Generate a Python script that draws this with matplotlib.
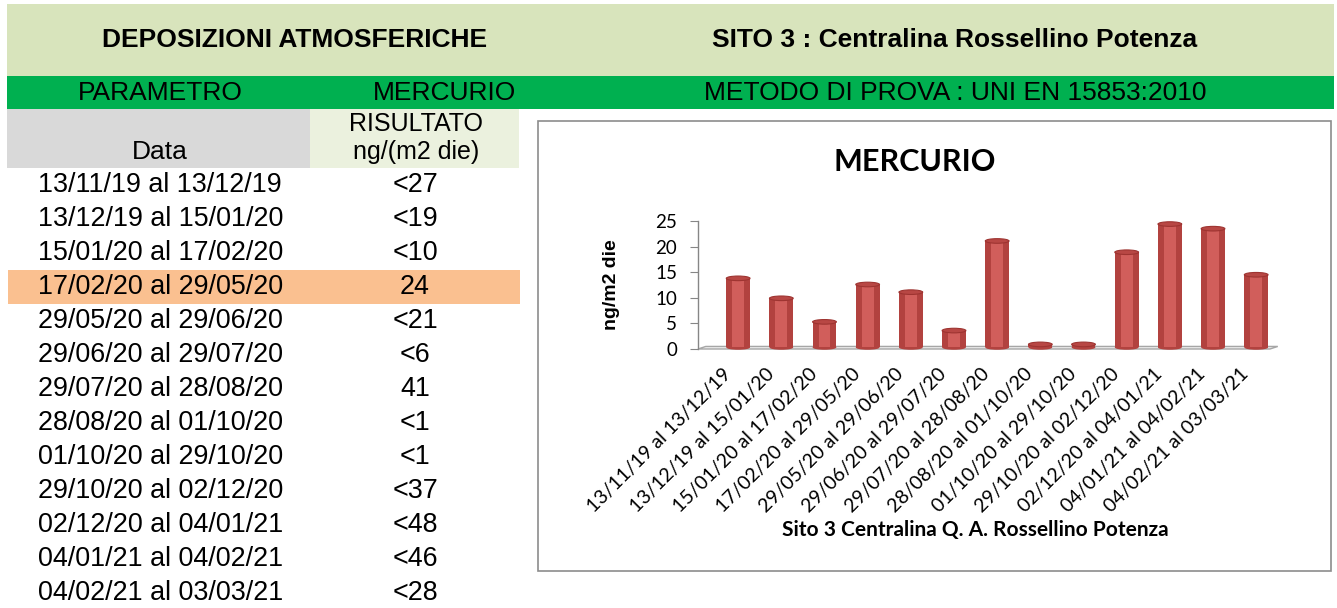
import matplotlib
matplotlib.use("Agg")
import matplotlib.pyplot as plt
import matplotlib.transforms as mtransforms
from matplotlib.patches import Rectangle, Ellipse
import numpy as np

periods = ["13/11/19 al 13/12/19", "13/12/19 al 15/01/20", "15/01/20 al 17/02/20",
           "17/02/20 al 29/05/20", "29/05/20 al 29/06/20", "29/06/20 al 29/07/20",
           "29/07/20 al 28/08/20", "28/08/20 al 01/10/20", "01/10/20 al 29/10/20",
           "29/10/20 al 02/12/20", "02/12/20 al 04/01/21", "04/01/21 al 04/02/21",
           "04/02/21 al 03/03/21"]
results = ["<27", "<19", "<10", "24", "<21", "<6", "41", "<1", "<1", "<37", "<48", "<46", "<28"]
chart_values = [13.5, 9.6, 5.0, 12.3, 10.8, 3.3, 20.8, 0.6, 0.6, 18.6, 24.1, 23.2, 14.2]
yticks = [0, 5, 10, 15, 20, 25]
highlight_row = 3

W, H = 1337, 608
fig = plt.figure(figsize=(W / 100, H / 100), dpi=100)


def fx(x):
    return x / W


def fy(y):
    return 1 - y / H


def box(x0, y0, x1, y1, color, edge="none", lw=0):
    fig.patches.append(Rectangle((fx(x0), fy(y1)), fx(x1 - x0), (y1 - y0) / H,
                                 transform=fig.transFigure, facecolor=color,
                                 edgecolor=edge, lw=lw, zorder=-5))


TF = "Liberation Sans"
CF = "Lato"

# table part
box(7, 4, 1334, 76, "#D8E4BC")
box(7, 76, 1334, 109, "#00B050")
box(7, 109, 310, 168, "#D9D9D9")
box(310, 109, 519, 168, "#EBF1DE")
box(8, 270, 520, 304, "#FAC090")

fig.text(fx(295), fy(40), "DEPOSIZIONI ATMOSFERICHE", family=TF, weight="bold",
         fontsize=19, ha="center", va="center")
fig.text(fx(955), fy(40), "SITO 3 : Centralina Rossellino Potenza", family=TF,
         weight="bold", fontsize=19, ha="center", va="center")
fig.text(fx(160), fy(93), "PARAMETRO", family=TF, fontsize=19, ha="center", va="center")
fig.text(fx(445), fy(93), "MERCURIO", family=TF, fontsize=19, ha="center", va="center")
fig.text(fx(955), fy(93), "METODO DI PROVA : UNI EN 15853:2010", family=TF,
         fontsize=19, ha="center", va="center")
fig.text(fx(160), fy(152), "Data", family=TF, fontsize=19, ha="center", va="center")
fig.text(fx(416), fy(124), "RISULTATO", family=TF, fontsize=18, ha="center", va="center")
fig.text(fx(416), fy(152), "ng/(m2 die)", family=TF, fontsize=18, ha="center", va="center")

for i, (p, r) in enumerate(zip(periods, results)):
    y = 185 + 34 * i
    fig.text(fx(38), fy(y), p, family=TF, fontsize=19.4, ha="left", va="center")
    fig.text(fx(415), fy(y), r, family=TF, fontsize=19.4, ha="center", va="center")

# chart frame
box(538, 121, 1331, 571, "white", edge="#8C8C8C", lw=1.2)
fig.text(fx(915), fy(162), "MERCURIO", family=CF, weight="bold", fontsize=22,
         ha="center", va="center")
fig.text(fx(975), fy(530), "Sito 3 Centralina Q. A. Rossellino Potenza", family=CF,
         weight="bold", fontsize=15, ha="center", va="center")
fig.text(fx(612), fy(285), "ng/m2 die", family=TF, weight="bold", fontsize=14,
         rotation=90, ha="center", va="center")

ax = fig.add_axes([fx(698), fy(349), fx(1270 - 698), (349 - 221) / H])
ax.set_xlim(-0.88, 12.37)
ax.set_ylim(0, 25)
for s in ax.spines.values():
    s.set_visible(False)
ax.patch.set_alpha(0)

x = np.arange(len(chart_values))
bw = 0.55
# floor (3D look)
ax.fill([-0.88, 12.37, 12.55, -0.7], [0, 0, 0.5, 0.5], color="#EDEDED",
        edgecolor="#A6A6A6", lw=1, clip_on=False, zorder=1)
ax.plot([-0.88, -0.88], [0, 25], color="#868686", lw=1, clip_on=False, zorder=1)
ax.bar(x + 0.05, chart_values, width=bw, bottom=0.3, color="#B2423F", zorder=3,
       clip_on=False)
ax.bar(x + 0.05, chart_values, width=bw * 0.5, bottom=0.3, color="#D15E5B", zorder=3,
       clip_on=False)
for xi, v in zip(x, chart_values):
    ax.add_patch(Ellipse((xi + 0.05, v + 0.3), bw, 0.9, facecolor="#B84744",
                         edgecolor="#9E3431", lw=0.8, zorder=4, clip_on=False))
    ax.add_patch(Ellipse((xi + 0.05, 0.3), bw, 0.9, facecolor="#B2423F",
                         edgecolor="none", zorder=2, clip_on=False))

ax.set_yticks(yticks)
ax.set_yticklabels([str(t) for t in yticks], family=CF, fontsize=13.5)
ax.tick_params(axis="y", length=6, color="#868686", pad=9)
ax.set_xticks(x)
ax.set_xticklabels(periods, rotation=45, ha="right", va="center",
                   rotation_mode="anchor", family=CF, fontsize=14)
ax.tick_params(axis="x", length=0, pad=16)
off = mtransforms.ScaledTranslation(-8 / 100, 0, fig.dpi_scale_trans)
for lab in ax.get_xticklabels():
    lab.set_transform(lab.get_transform() + off)

fig.savefig("out.png", dpi=100)
